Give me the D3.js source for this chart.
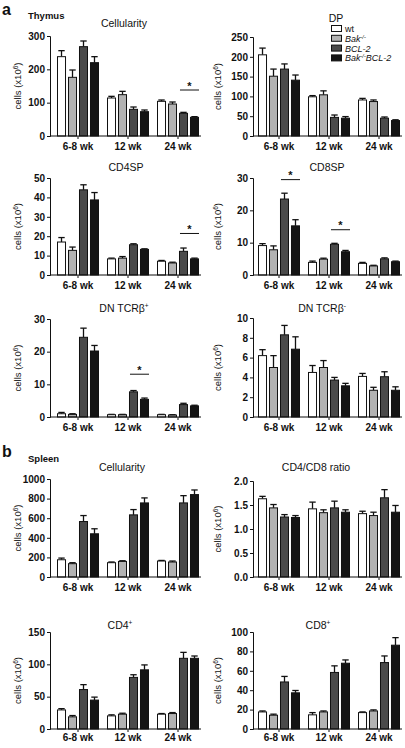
<!DOCTYPE html>
<html><head><meta charset="utf-8">
<script src="https://cdn.jsdelivr.net/npm/d3@7"></script>
<style>
body{margin:0;background:#fff}
svg{display:block}
text{font-family:"Liberation Sans",Arial,Helvetica,sans-serif;fill:#111}
</style>
</head><body>
<svg id="c" width="405" height="748"></svg>
<script>
// ---------------- DATA ----------------
const categories = ["6-8 wk", "12 wk", "24 wk"];
const seriesNames = ["wt", "Bak-/-", "BCL-2", "Bak-/-BCL-2"];

// Thymus (panel a) – mean values per age group [wt, Bak-/-, BCL-2, Bak-/-BCL-2]
const thyCellMean = [[238,176,268,220],[114,124,80,73],[104,96,68,56]];
const thyCellErr  = [[18,22,17,18],[5,10,7,5],[4,6,3,2]];
const dpMean = [[205,151,169,141],[99,104,47,45],[91,87,45,39]];
const dpErr  = [[17,18,13,13],[3,10,6,4],[4,4,3,2]];
const cd4spMean = [[17,12.7,43.9,38.7],[8.3,8.7,15.6,13.2],[7.1,6.2,12.2,8.3]];
const cd4spErr  = [[2.3,1.7,2.6,3.8],[0.4,0.8,0.5,0.3],[0.4,0.4,1.7,0.4]];
const cd8spMean = [[9.1,7.8,23.5,15.2],[3.9,4.9,9.5,7.2],[3.6,2.8,5.0,4.1]];
const cd8spErr  = [[0.6,1.2,1.8,1.9],[0.4,0.3,0.3,0.4],[0.3,0.2,0.3,0.2]];
const dnPosMean = [[1.0,0.8,24.4,20.2],[0.7,0.7,7.7,5.4],[0.7,0.6,3.8,3.4]];
const dnPosErr  = [[0.4,0.2,2.8,1.7],[0.1,0.1,0.4,0.4],[0.1,0.1,0.4,0.2]];
const dnNegMean = [[6.2,5.0,8.3,6.85],[4.5,5.0,3.73,3.15],[4.1,2.7,4.07,2.7]];
const dnNegErr  = [[0.6,1.2,0.95,1.25],[0.7,0.7,0.27,0.25],[0.3,0.3,0.5,0.35]];
// Spleen (panel b)
const splCellMean = [[176,136,566,441],[146,159,634,756],[163,153,756,841]];
const splCellErr  = [[17,10,61,51],[7,7,54,51],[6,10,74,47]];
const ratioMean = [[1.63,1.44,1.25,1.24],[1.42,1.34,1.44,1.35],[1.32,1.28,1.65,1.35]];
const ratioErr  = [[0.05,0.07,0.05,0.04],[0.14,0.06,0.14,0.05],[0.05,0.07,0.17,0.14]];
const cd4Mean = [[29.5,18.8,61,44.7],[20.3,22.9,79.8,91.5],[22.9,23.9,109.3,109.3]];
const cd4Err  = [[2,2,7.6,4.6],[1.6,1.5,4.1,7.6],[1,1.5,9.2,3.6]];
const cd8Mean = [[17.6,14.2,48.5,37.3],[14.6,17.6,58.3,67.8],[16.9,18.6,68.5,86.4]];
const cd8Err  = [[1,1.1,5.7,2.4],[2.3,1,6.8,3.4],[0.7,1.1,6.8,7.8]];

// tick values
const ticksThyCell = [0,100,200,300];
const ticksDP = [0,50,100,150,200,250];
const ticksCD4SP = [0,10,20,30,40,50];
const ticksCD8SP = [0,10,20,30];
const ticksDNPos = [0,10,20,30];
const ticksDNNeg = [0,2,4,6,8,10];
const ticksSplCell = [0,200,400,600,800,1000];
const ticksRatio = [0,0.5,1.0,1.5,2.0];
const ticksCD4 = [0,50,100,150];
const ticksCD8 = [0,20,40,60,80,100];

// significance brackets: [age group index, bracket level in data units]
const sigThyCell = [[2,138]];
const sigCD4SP = [[2,21.4]];
const sigCD8SP = [[0,29.5],[1,14.0]];
const sigDNPos = [[1,13.1]];

// ---------------- DRAW ----------------
const svg = d3.select("#c");
const colors = ["#ffffff", "#b2b2b2", "#4a4a4a", "#141414"];
const FONT = '"Liberation Sans",Arial,Helvetica,sans-serif';

const cols = [
  {axisX: 50, range: [53, 203], xEnd: 201, labelX: 21},
  {axisX: 253, range: [254, 404], xEnd: 402, labelX: 221}
];

const panels = [
  {col:0, top:36,  bottom:136, titleX:124, titleY:27,  title:["Cellularity"], mean:thyCellMean, err:thyCellErr, ticks:ticksThyCell, sig:sigThyCell, fmt:d3.format("d")},
  {col:1, top:37,  bottom:136, titleX:336, titleY:22,  title:["DP"], mean:dpMean, err:dpErr, ticks:ticksDP, sig:[], fmt:d3.format("d")},
  {col:0, top:178, bottom:275, titleX:126, titleY:171, title:["CD4SP"], mean:cd4spMean, err:cd4spErr, ticks:ticksCD4SP, sig:sigCD4SP, fmt:d3.format("d")},
  {col:1, top:178, bottom:275, titleX:327, titleY:171, title:["CD8SP"], mean:cd8spMean, err:cd8spErr, ticks:ticksCD8SP, sig:sigCD8SP, fmt:d3.format("d")},
  {col:0, top:319, bottom:417, titleX:124, titleY:312, title:["DN TCR\u03b2",{sup:"+"}], mean:dnPosMean, err:dnPosErr, ticks:ticksDNPos, sig:sigDNPos, fmt:d3.format("d")},
  {col:1, top:318, bottom:417, titleX:322, titleY:312, title:["DN TCR\u03b2",{sup:"-"}], mean:dnNegMean, err:dnNegErr, ticks:ticksDNNeg, sig:[], fmt:d3.format("d")},
  {col:0, top:479, bottom:577, titleX:122, titleY:471, title:["Cellularity"], mean:splCellMean, err:splCellErr, ticks:ticksSplCell, sig:[], fmt:d3.format("d")},
  {col:1, top:481, bottom:577, titleX:316, titleY:471, title:["CD4/CD8 ratio"], mean:ratioMean, err:ratioErr, ticks:ticksRatio, sig:[], fmt:d3.format(".1f")},
  {col:0, top:632, bottom:729, titleX:120, titleY:629, title:["CD4",{sup:"+"}], mean:cd4Mean, err:cd4Err, ticks:ticksCD4, sig:[], fmt:d3.format("d"), pad:2},
  {col:1, top:632, bottom:729, titleX:318, titleY:629, title:["CD8",{sup:"+"}], mean:cd8Mean, err:cd8Err, ticks:ticksCD8, sig:[], fmt:d3.format("d"), pad:2}
];

panels.forEach(p => {
  const c = cols[p.col];
  const g = svg.append("g");
  const y = d3.scaleLinear().domain([0, d3.max(p.ticks)]).range([p.bottom, p.top]);
  const x0 = d3.scaleBand().domain(categories).range(c.range).paddingInner(0.16).paddingOuter(0.08);
  const x1 = d3.scaleBand().domain(seriesNames).range([0, x0.bandwidth()]).paddingInner(0.18);

  // bars
  categories.forEach((cat, gi) => {
    const gg = g.append("g").attr("transform", `translate(${x0(cat)},0)`);
    seriesNames.forEach((s, si) => {
      const v = p.mean[gi][si], e = p.err[gi][si];
      const bx = x1(s), bw = x1.bandwidth();
      const cx = bx + bw / 2;
      gg.append("line").attr("x1", cx).attr("x2", cx).attr("y1", y(v)).attr("y2", y(v + e))
        .attr("stroke", "#111").attr("stroke-width", 1.3);
      gg.append("line").attr("x1", cx - 3.2).attr("x2", cx + 3.2).attr("y1", y(v + e)).attr("y2", y(v + e))
        .attr("stroke", "#111").attr("stroke-width", 1.3);
      gg.append("rect").attr("x", bx + 0.5).attr("y", y(v)).attr("width", bw - 1)
        .attr("height", Math.max(0, y(0) - y(v)))
        .attr("fill", colors[si]).attr("stroke", "#111").attr("stroke-width", 1);
    });
  });

  // y axis
  const ya = g.append("g").attr("transform", `translate(${c.axisX},0)`)
    .call(d3.axisLeft(y).tickValues(p.ticks).tickSize(3).tickPadding(2).tickFormat(p.fmt));
  ya.select(".domain").attr("stroke", "#111").attr("stroke-width", 1);
  ya.selectAll(".tick line").attr("stroke", "#111");
  ya.selectAll("text").attr("font-family", FONT).attr("font-size", 10).attr("font-weight", "bold").attr("fill", "#111");

  // x axis
  const xa = g.append("g").attr("transform", `translate(0,${p.bottom})`)
    .call(d3.axisBottom(x0).tickSize(3).tickSizeOuter(0).tickPadding(p.pad !== undefined ? p.pad : 3.5));
  xa.select(".domain").attr("d", `M${c.axisX},0H${c.xEnd}`).attr("stroke", "#111").attr("stroke-width", 1);
  xa.selectAll(".tick line").attr("stroke", "#111");
  xa.selectAll("text").attr("font-family", FONT).attr("font-size", 10).attr("font-weight", "bold").attr("fill", "#111");

  // title
  const t = g.append("text").attr("x", p.titleX).attr("y", p.titleY).attr("text-anchor", "middle")
    .attr("font-size", 10.5);
  p.title.forEach(part => {
    if (typeof part === "string") t.append("tspan").text(part);
    else t.append("tspan").attr("dy", -4).attr("font-size", 6.5).text(part.sup);
  });

  // y label
  const yl = g.append("text").attr("transform", `translate(${c.labelX},${(p.top + p.bottom) / 2}) rotate(-90)`)
    .attr("text-anchor", "middle").attr("font-size", 9.5);
  yl.append("tspan").text("cells (x10");
  yl.append("tspan").attr("dy", -3.5).attr("font-size", 6.5).text("6");
  yl.append("tspan").attr("dy", 3.5).text(")");

  // significance brackets
  p.sig.forEach(([gi, level]) => {
    const cat = categories[gi];
    const xa1 = x0(cat) + x1(seriesNames[2]) + 1;
    const xa2 = x0(cat) + x1(seriesNames[3]) + x1.bandwidth();
    g.append("line").attr("x1", xa1).attr("x2", xa2).attr("y1", y(level)).attr("y2", y(level))
      .attr("stroke", "#111").attr("stroke-width", 1);
    g.append("text").attr("x", (xa1 + xa2) / 2).attr("y", y(level) - 0.5).attr("text-anchor", "middle")
      .attr("font-size", 11).attr("font-weight", "bold").text("*");
  });
});

// legend (in DP panel)
const legend = svg.append("g").attr("transform", "translate(331,25)");
const legendParts = [["wt"], ["Bak", {sup:"-/-"}], ["BCL-2"], ["Bak", {sup:"-/-"}, "BCL-2"]];
seriesNames.forEach((s, i) => {
  const row = legend.append("g").attr("transform", `translate(0,${i * 9.8})`);
  row.append("rect").attr("x", 0.5).attr("y", 0.5).attr("width", 10).attr("height", 6)
    .attr("fill", colors[i]).attr("stroke", "#111").attr("stroke-width", 1);
  const tx = row.append("text").attr("x", 14).attr("y", 7).attr("font-size", 9)
    .attr("font-style", i === 0 ? "normal" : "italic");
  let afterSup = false;
  legendParts[i].forEach(part => {
    if (typeof part === "string") {
      tx.append("tspan").attr("dy", afterSup ? 3 : 0).text(part);
      afterSup = false;
    } else {
      tx.append("tspan").attr("dy", -3).attr("font-size", 5.5).text(part.sup);
      afterSup = true;
    }
  });
});

// panel letters and tissue labels
svg.append("text").attr("x", 2).attr("y", 14.5).attr("font-size", 16).attr("font-weight", "bold").text("a");
svg.append("text").attr("x", 28).attr("y", 19).attr("font-size", 9.5).attr("font-weight", "bold").text("Thymus");
svg.append("text").attr("x", 2).attr("y", 457).attr("font-size", 16).attr("font-weight", "bold").text("b");
svg.append("text").attr("x", 28).attr("y", 462).attr("font-size", 9.5).attr("font-weight", "bold").text("Spleen");
</script>
</body></html>
